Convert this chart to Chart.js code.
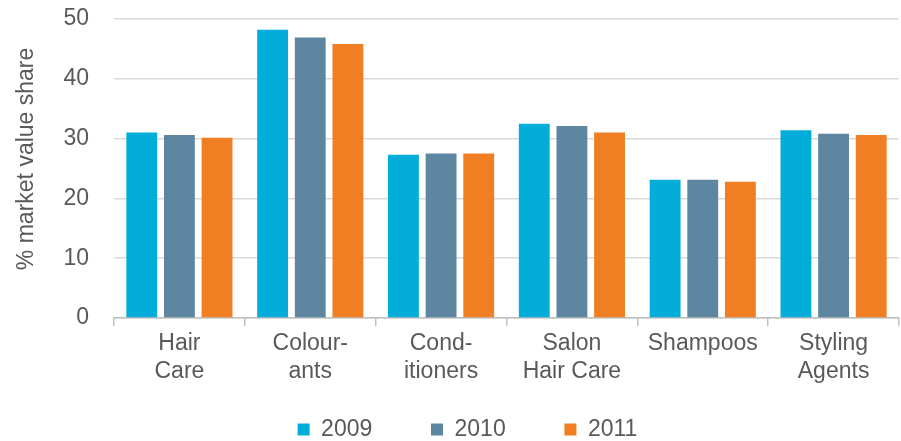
<!DOCTYPE html>
<html>
<head>
<meta charset="utf-8">
<script src="https://cdn.jsdelivr.net/npm/chart.js@4"></script>
<style>
  html, body { margin: 0; padding: 0; background: #fff; }
  #wrap { width: 901px; height: 441px; }
</style>
</head>
<body>
<div id="wrap"><canvas id="myChart" width="901" height="441"></canvas></div>
<script>
const ctx = document.getElementById('myChart').getContext('2d');

// kategooriad, kahe reaga nagu pildil
let categories = [['Hair', 'Care'], ['Colour-', 'ants'], ['Cond-', 'itioners'], ['Salon', 'Hair Care'], ['Shampoos'], ['Styling', 'Agents']]
let years = ['2009', '2010', '2011']
let data_2009 = [31.0, 48.2, 27.3, 32.5, 23.1, 31.4]
let data_2010 = [30.6, 46.9, 27.5, 32.1, 23.1, 30.8]
let data_2011 = [30.15, 45.8, 27.5, 31.0, 22.8, 30.6]
let y_ticks = [0, 10, 20, 30, 40, 50]
let y_title = '% market value share'

let colors = ['#02aed9', '#5e86a0', '#f07f24']
let textColor = '#595959'
let fontFamily = "'Liberation Sans', Arial, sans-serif"

// vasak padding nihutab legendi paremale, y-telg kompenseerib
let padLeft = 36

const myChart = new Chart(ctx, {
    type: 'bar',
    data: {
        labels: categories,
        datasets: [{
            label: years[0],
            data: data_2009,
            backgroundColor: colors[0]
        }, {
            label: years[1],
            data: data_2010,
            backgroundColor: colors[1]
        }, {
            label: years[2],
            data: data_2011,
            backgroundColor: colors[2]
        }]
    },
    options: {
        responsive: false,
        animation: false,
        datasets: {
            bar: {
                categoryPercentage: 0.863,
                barPercentage: 0.82
            }
        },
        layout: {
            padding: { top: 19, right: 2, left: padLeft, bottom: -10 }
        },
        plugins: {
            legend: {
                position: 'bottom',
                labels: {
                    boxWidth: 12,
                    boxHeight: 12,
                    padding: 14,
                    color: textColor,
                    font: { size: 23, family: fontFamily },
                    // legendi vahed laiemaks (tühikud teksti lõppu)
                    generateLabels: function (chart) {
                        let items = Chart.defaults.plugins.legend.labels.generateLabels(chart)
                        items.forEach((it, i) => {
                            if (i < items.length - 1) it.text += '\u00a0'.repeat(7)
                        })
                        return items
                    }
                }
            },
            tooltip: { enabled: false }
        },
        scales: {
            y: {
                min: 0,
                max: 50,
                afterBuildTicks: function (axis) {
                    axis.ticks = y_ticks.map(v => ({ value: v }))
                },
                afterFit: function (axis) {
                    axis.width = 114 - padLeft
                },
                border: { display: false },
                grid: {
                    color: '#d9d9d9',
                    lineWidth: 1.5,
                    tickLength: 22,
                    tickColor: 'rgba(0,0,0,0)'
                },
                ticks: {
                    padding: 3,
                    color: textColor,
                    font: { size: 23, family: fontFamily }
                },
                title: {
                    display: true,
                    // paar tühikut ette, et pealkiri oleks veits kõrgemal
                    text: '\u00a0\u00a0\u00a0' + y_title,
                    color: textColor,
                    padding: { top: 13 - padLeft, bottom: 0 },
                    font: { size: 23, family: fontFamily }
                }
            },
            x: {
                afterFit: function (axis) {
                    axis.height = 86
                },
                border: { display: true, color: '#bfbfbf', width: 1.5 },
                grid: {
                    offset: true,
                    drawOnChartArea: false,
                    color: '#bfbfbf',
                    lineWidth: 1.5,
                    tickLength: 8
                },
                ticks: {
                    padding: 4,
                    color: textColor,
                    maxRotation: 0,
                    font: { size: 23, family: fontFamily, lineHeight: 1.2 }
                }
            }
        }
    }
});
</script>
</body>
</html>
